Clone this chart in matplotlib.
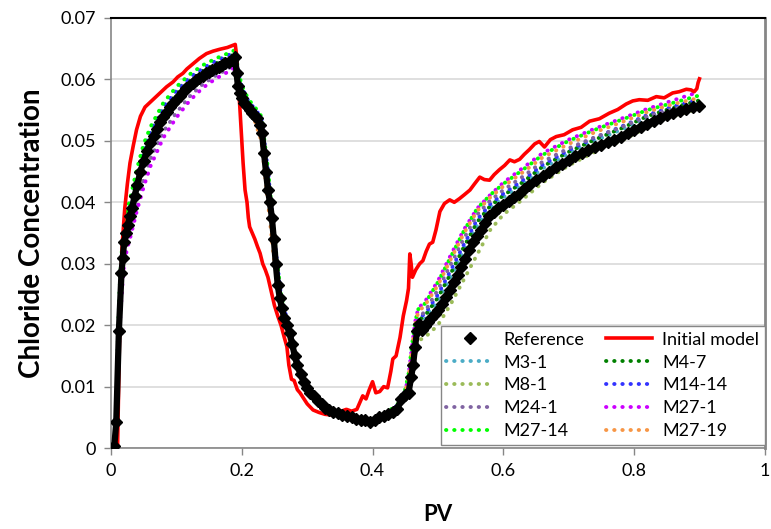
import matplotlib
matplotlib.use("Agg")
import matplotlib.pyplot as plt

# ---- data ----
ref_pv = [0.005, 0.008, 0.012, 0.016, 0.018, 0.020, 0.023, 0.026, 0.029, 0.032, 0.036, 0.040,
          0.045, 0.050, 0.055, 0.060, 0.065, 0.070, 0.075, 0.080, 0.085, 0.090, 0.095, 0.100,
          0.105, 0.110, 0.115, 0.120, 0.125, 0.130, 0.135, 0.140, 0.145, 0.150, 0.155, 0.160,
          0.165, 0.170, 0.175, 0.180, 0.185, 0.190, 0.192, 0.194, 0.197, 0.200, 0.204, 0.208,
          0.212, 0.216, 0.220, 0.224, 0.228, 0.231, 0.234, 0.237, 0.240, 0.243, 0.246, 0.249,
          0.252, 0.255, 0.258, 0.261, 0.265, 0.269, 0.273, 0.277, 0.281, 0.285, 0.290, 0.295,
          0.300, 0.305, 0.310, 0.316, 0.322, 0.328, 0.334, 0.340, 0.347, 0.354, 0.361, 0.368,
          0.375, 0.382, 0.389, 0.396, 0.403, 0.410, 0.417, 0.424, 0.431, 0.438, 0.444, 0.450,
          0.455, 0.459, 0.462, 0.465, 0.468, 0.471, 0.475, 0.480, 0.485, 0.490, 0.495, 0.500,
          0.506, 0.512, 0.518, 0.524, 0.530, 0.536, 0.542, 0.548, 0.554, 0.560, 0.566, 0.572,
          0.578, 0.585, 0.592, 0.600, 0.608, 0.616, 0.624, 0.632, 0.640, 0.650, 0.660, 0.670,
          0.680, 0.690, 0.700, 0.710, 0.720, 0.730, 0.740, 0.750, 0.760, 0.770, 0.780, 0.790,
          0.800, 0.810, 0.820, 0.830, 0.840, 0.850, 0.860, 0.870, 0.880, 0.890, 0.900]
ref_conc = [0.0003, 0.0042, 0.0190, 0.0285, 0.0310, 0.0335, 0.0350, 0.0363, 0.0378, 0.0390, 0.0410, 0.0428,
            0.0450, 0.0468, 0.0484, 0.0497, 0.0508, 0.0520, 0.0530, 0.0539, 0.0547, 0.0555, 0.0561, 0.0567,
            0.0573, 0.0580, 0.0586, 0.0590, 0.0594, 0.0599, 0.0603, 0.0606, 0.0610, 0.0612, 0.0615, 0.0618,
            0.0621, 0.0624, 0.0627, 0.0629, 0.0632, 0.0636, 0.0610, 0.0590, 0.0578, 0.0570, 0.0562, 0.0556,
            0.0550, 0.0546, 0.0541, 0.0538, 0.0526, 0.0513, 0.0480, 0.0450, 0.0420, 0.0400, 0.0375, 0.0340,
            0.0300, 0.0265, 0.0245, 0.0228, 0.0212, 0.0200, 0.0188, 0.0170, 0.0150, 0.0135, 0.0120, 0.0108,
            0.0098, 0.0090, 0.0084, 0.0077, 0.0071, 0.0066, 0.0062, 0.0059, 0.0057, 0.0054, 0.0052, 0.0050,
            0.0048, 0.0046, 0.0045, 0.0043, 0.0046, 0.0050, 0.0052, 0.0055, 0.0058, 0.0063, 0.0080, 0.0087,
            0.0090, 0.0115, 0.0135, 0.0165, 0.0190, 0.0202, 0.0192, 0.0198, 0.0205, 0.0212, 0.0218, 0.0225,
            0.0235, 0.0246, 0.0258, 0.0270, 0.0282, 0.0295, 0.0308, 0.0322, 0.0335, 0.0345, 0.0355, 0.0367,
            0.0378, 0.0385, 0.0390, 0.0396, 0.0402, 0.0408, 0.0414, 0.0421, 0.0428, 0.0436, 0.0443, 0.0450,
            0.0457, 0.0463, 0.0469, 0.0475, 0.0480, 0.0485, 0.0490, 0.0494, 0.0498, 0.0502, 0.0507, 0.0513,
            0.0518, 0.0523, 0.0528, 0.0533, 0.0538, 0.0542, 0.0546, 0.0549, 0.0552, 0.0555, 0.0557]

init_pv = [0.010, 0.012, 0.014, 0.017, 0.021, 0.025, 0.029, 0.034, 0.039, 0.045, 0.052, 0.060,
           0.070, 0.085, 0.095, 0.102, 0.110, 0.116, 0.125, 0.135, 0.146, 0.156, 0.166, 0.178,
           0.190, 0.192, 0.195, 0.197, 0.200, 0.202, 0.205, 0.208, 0.210, 0.212, 0.216, 0.220,
           0.224, 0.228, 0.232, 0.236, 0.240, 0.245, 0.250, 0.255, 0.260, 0.265, 0.269, 0.272,
           0.276, 0.280, 0.285, 0.289, 0.295, 0.300, 0.309, 0.318, 0.327, 0.335, 0.345, 0.352,
           0.360, 0.368, 0.376, 0.381, 0.385, 0.390, 0.395, 0.400, 0.405, 0.411, 0.417, 0.423,
           0.428, 0.431, 0.436, 0.442, 0.447, 0.452, 0.455, 0.457, 0.459, 0.461, 0.466, 0.472,
           0.477, 0.482, 0.487, 0.492, 0.497, 0.503, 0.510, 0.518, 0.525, 0.533, 0.540, 0.549,
           0.556, 0.564, 0.571, 0.579, 0.586, 0.594, 0.602, 0.610, 0.617, 0.625, 0.632, 0.640,
           0.648, 0.655, 0.663, 0.672, 0.681, 0.693, 0.706, 0.719, 0.732, 0.747, 0.762, 0.775,
           0.788, 0.798, 0.808, 0.821, 0.834, 0.846, 0.859, 0.869, 0.880, 0.887, 0.892, 0.896,
           0.898, 0.900]
init_conc = [0.0000, 0.0120, 0.0240, 0.0330, 0.0390, 0.0430, 0.0464, 0.0492, 0.0518, 0.0540, 0.0555, 0.0563,
             0.0573, 0.0588, 0.0596, 0.0604, 0.0610, 0.0617, 0.0625, 0.0634, 0.0642, 0.0646, 0.0649, 0.0652,
             0.0657, 0.0640, 0.0590, 0.0555, 0.0500, 0.0464, 0.0420, 0.0400, 0.0375, 0.0360, 0.0350, 0.0340,
             0.0328, 0.0317, 0.0300, 0.0290, 0.0278, 0.0255, 0.0232, 0.0215, 0.0200, 0.0180, 0.0165, 0.0135,
             0.0112, 0.0110, 0.0095, 0.0090, 0.0080, 0.0072, 0.0062, 0.0058, 0.0055, 0.0054, 0.0056, 0.0060,
             0.0063, 0.0060, 0.0063, 0.0075, 0.0085, 0.0080, 0.0095, 0.0108, 0.0090, 0.0092, 0.0100, 0.0098,
             0.0125, 0.0145, 0.0150, 0.0180, 0.0215, 0.0240, 0.0260, 0.0316, 0.0300, 0.0278, 0.0290, 0.0300,
             0.0305, 0.0320, 0.0332, 0.0335, 0.0355, 0.0385, 0.0398, 0.0404, 0.0400, 0.0406, 0.0412, 0.0420,
             0.0430, 0.0441, 0.0437, 0.0436, 0.0445, 0.0453, 0.0460, 0.0469, 0.0466, 0.0470, 0.0478, 0.0486,
             0.0495, 0.0499, 0.0490, 0.0502, 0.0507, 0.0510, 0.0518, 0.0522, 0.0532, 0.0536, 0.0545, 0.0551,
             0.0560, 0.0565, 0.0567, 0.0566, 0.0572, 0.0570, 0.0578, 0.0580, 0.0584, 0.0583, 0.0580, 0.0585,
             0.0595, 0.0601]

model_pv = [0.005, 0.008, 0.011, 0.014, 0.017, 0.020, 0.025, 0.030, 0.040, 0.050, 0.060, 0.080,
            0.100, 0.120, 0.140, 0.160, 0.180, 0.190, 0.195, 0.200, 0.210, 0.220, 0.230, 0.240,
            0.250, 0.260, 0.270, 0.280, 0.290, 0.300, 0.320, 0.340, 0.360, 0.380, 0.400, 0.420,
            0.440, 0.450, 0.455, 0.460, 0.465, 0.470, 0.480, 0.500, 0.520, 0.540, 0.560, 0.580,
            0.600, 0.630, 0.660, 0.700, 0.740, 0.780, 0.820, 0.860, 0.900]

m3_1 = [0.0, 0.005, 0.017, 0.025, 0.030, 0.0338, 0.0368, 0.0390, 0.0436, 0.0476, 0.0505, 0.0547,
        0.0574, 0.0596, 0.0612, 0.0624, 0.0635, 0.0640, 0.0600, 0.0578, 0.0558, 0.0546, 0.0530, 0.0440,
        0.0330, 0.0240, 0.0200, 0.0158, 0.0122, 0.0100, 0.0074, 0.0060, 0.0052, 0.0047, 0.0046, 0.0055,
        0.0070, 0.0090, 0.0110, 0.0150, 0.0185, 0.0205, 0.0210, 0.0240, 0.0280, 0.0322, 0.0362, 0.0390,
        0.0408, 0.0430, 0.0455, 0.0480, 0.0500, 0.0518, 0.0538, 0.0552, 0.0565]
m4_7 = [0.0, 0.005, 0.018, 0.026, 0.031, 0.0342, 0.0372, 0.0394, 0.0440, 0.0480, 0.0508, 0.0550,
        0.0577, 0.0598, 0.0614, 0.0626, 0.0637, 0.0642, 0.0605, 0.0582, 0.0560, 0.0548, 0.0533, 0.0445,
        0.0335, 0.0243, 0.0202, 0.0160, 0.0124, 0.0101, 0.0075, 0.0060, 0.0052, 0.0047, 0.0046, 0.0055,
        0.0071, 0.0092, 0.0112, 0.0155, 0.0190, 0.0208, 0.0215, 0.0245, 0.0285, 0.0328, 0.0368, 0.0394,
        0.0411, 0.0433, 0.0458, 0.0482, 0.0502, 0.0520, 0.0540, 0.0554, 0.0566]
m8_1 = [0.0, 0.004, 0.015, 0.023, 0.028, 0.0322, 0.0352, 0.0374, 0.0420, 0.0460, 0.0490, 0.0532,
        0.0560, 0.0584, 0.0601, 0.0614, 0.0626, 0.0632, 0.0598, 0.0576, 0.0556, 0.0545, 0.0528, 0.0440,
        0.0330, 0.0238, 0.0200, 0.0158, 0.0124, 0.0102, 0.0076, 0.0061, 0.0053, 0.0048, 0.0046, 0.0054,
        0.0066, 0.0080, 0.0090, 0.0115, 0.0150, 0.0175, 0.0180, 0.0200, 0.0235, 0.0275, 0.0315, 0.0355,
        0.0380, 0.0405, 0.0432, 0.0460, 0.0482, 0.0500, 0.0522, 0.0540, 0.0553]
m14_14 = [0.0, 0.006, 0.019, 0.027, 0.032, 0.0350, 0.0380, 0.0402, 0.0448, 0.0488, 0.0515, 0.0556,
          0.0582, 0.0603, 0.0618, 0.0630, 0.0640, 0.0645, 0.0610, 0.0588, 0.0565, 0.0552, 0.0538, 0.0452,
          0.0340, 0.0248, 0.0206, 0.0163, 0.0126, 0.0102, 0.0075, 0.0060, 0.0052, 0.0047, 0.0046, 0.0055,
          0.0071, 0.0093, 0.0115, 0.0158, 0.0195, 0.0212, 0.0218, 0.0250, 0.0290, 0.0332, 0.0372, 0.0397,
          0.0414, 0.0436, 0.0461, 0.0485, 0.0505, 0.0523, 0.0542, 0.0556, 0.0568]
m24_1 = [0.0, 0.004, 0.014, 0.022, 0.027, 0.0310, 0.0338, 0.0358, 0.0400, 0.0438, 0.0470, 0.0515,
         0.0546, 0.0572, 0.0592, 0.0606, 0.0618, 0.0625, 0.0592, 0.0572, 0.0552, 0.0540, 0.0522, 0.0432,
         0.0325, 0.0236, 0.0198, 0.0156, 0.0120, 0.0097, 0.0070, 0.0056, 0.0050, 0.0046, 0.0045, 0.0054,
         0.0068, 0.0088, 0.0108, 0.0150, 0.0190, 0.0212, 0.0222, 0.0258, 0.0300, 0.0342, 0.0380, 0.0403,
         0.0420, 0.0442, 0.0466, 0.0488, 0.0506, 0.0522, 0.0540, 0.0552, 0.0562]
m27_1 = [0.0, 0.004, 0.013, 0.021, 0.026, 0.0300, 0.0326, 0.0345, 0.0388, 0.0425, 0.0458, 0.0505,
         0.0538, 0.0565, 0.0586, 0.0601, 0.0613, 0.0620, 0.0590, 0.0570, 0.0550, 0.0540, 0.0524, 0.0436,
         0.0328, 0.0238, 0.0198, 0.0155, 0.0118, 0.0094, 0.0068, 0.0055, 0.0050, 0.0046, 0.0046, 0.0055,
         0.0070, 0.0092, 0.0115, 0.0160, 0.0205, 0.0228, 0.0238, 0.0272, 0.0315, 0.0356, 0.0390, 0.0412,
         0.0432, 0.0456, 0.0480, 0.0502, 0.0520, 0.0536, 0.0552, 0.0566, 0.0580]
m27_14 = [0.0, 0.006, 0.020, 0.028, 0.033, 0.0358, 0.0388, 0.0410, 0.0456, 0.0495, 0.0522, 0.0562,
          0.0588, 0.0608, 0.0623, 0.0634, 0.0643, 0.0648, 0.0612, 0.0590, 0.0568, 0.0555, 0.0540, 0.0455,
          0.0342, 0.0248, 0.0205, 0.0160, 0.0124, 0.0100, 0.0074, 0.0058, 0.0051, 0.0046, 0.0046, 0.0056,
          0.0073, 0.0096, 0.0120, 0.0165, 0.0205, 0.0226, 0.0235, 0.0270, 0.0312, 0.0354, 0.0390, 0.0412,
          0.0430, 0.0453, 0.0477, 0.0500, 0.0518, 0.0534, 0.0550, 0.0562, 0.0574]
m27_19 = [0.0, 0.005, 0.016, 0.024, 0.029, 0.0330, 0.0360, 0.0380, 0.0422, 0.0460, 0.0490, 0.0533,
          0.0562, 0.0586, 0.0604, 0.0617, 0.0628, 0.0634, 0.0595, 0.0572, 0.0548, 0.0532, 0.0500, 0.0400,
          0.0300, 0.0220, 0.0188, 0.0148, 0.0114, 0.0092, 0.0068, 0.0056, 0.0050, 0.0046, 0.0046, 0.0055,
          0.0070, 0.0092, 0.0113, 0.0158, 0.0200, 0.0222, 0.0232, 0.0265, 0.0308, 0.0350, 0.0386, 0.0408,
          0.0426, 0.0449, 0.0473, 0.0495, 0.0514, 0.0530, 0.0547, 0.0560, 0.0570]

model_names = ["M3-1", "M4-7", "M8-1", "M14-14", "M24-1", "M27-1", "M27-14", "M27-19"]
model_series = [m3_1, m4_7, m8_1, m14_14, m24_1, m27_1, m27_14, m27_19]
model_colors = ["#4bacc6", "#008000", "#9bbb59", "#3333ff", "#8064a2", "#cc00ff", "#00ff00", "#f79646"]

x_ticks = [0, 0.2, 0.4, 0.6, 0.8, 1.0]
x_labels = ["0", "0.2", "0.4", "0.6", "0.8", "1"]
y_ticks = [0, 0.01, 0.02, 0.03, 0.04, 0.05, 0.06, 0.07]
y_labels = ["0", "0.01", "0.02", "0.03", "0.04", "0.05", "0.06", "0.07"]

plt.rcParams["font.family"] = ["Lato", "DejaVu Sans"]

fig = plt.figure(figsize=(7.71, 5.29), dpi=100)
ax = fig.add_axes([0.144, 0.153, 0.848, 0.813])

# model runs as round dotted lines
handles = {}
for name, vals, col in zip(model_names, model_series, model_colors):
    ln, = ax.plot(model_pv, vals, color=col, linestyle=(0, (0.1, 2.0)), linewidth=2.8,
                  dash_capstyle="round", zorder=2, label=name)
    handles[name] = ln

# initial model
ln, = ax.plot(init_pv, init_conc, color="#ff0000", linewidth=2.6, zorder=3, label="Initial model")
handles["Initial model"] = ln

# reference data (dense diamonds)
ax.plot(ref_pv, ref_conc, color="black", linewidth=4.5, zorder=4)
ln, = ax.plot(ref_pv, ref_conc, linestyle="none", marker="D", markersize=6.5,
              color="black", zorder=5, label="Reference")
handles["Reference"] = ln

ax.set_xlim(0, 1)
ax.set_ylim(0, 0.07)
ax.set_xticks(x_ticks)
ax.set_xticklabels(x_labels)
ax.set_yticks(y_ticks)
ax.set_yticklabels(y_labels)
ax.tick_params(direction="out", length=5, width=1, color="#868686", labelsize=13, pad=6)
ax.yaxis.grid(True, color="#d9d9d9", linewidth=1.2)
ax.set_axisbelow(True)

for side in ["left", "bottom", "right"]:
    ax.spines[side].set_color("#868686")
    ax.spines[side].set_linewidth(1.2)
ax.spines["right"].set_linewidth(2)
ax.spines["top"].set_color("black")
ax.spines["top"].set_linewidth(1.5)

ax.set_xlabel("PV", fontsize=16, fontweight="bold", labelpad=18)
ax.set_ylabel("Chloride Concentration", fontsize=20, fontweight="bold", labelpad=11)

# legend is filled row by row like the original
order = ["Reference", "M3-1", "M8-1", "M24-1", "M27-14",
         "Initial model", "M4-7", "M14-14", "M27-1", "M27-19"]
leg = ax.legend([handles[k] for k in order], order, ncol=2, loc="lower right",
                bbox_to_anchor=(1.0, 0.008), fontsize=13, frameon=True, fancybox=False,
                edgecolor="#868686", framealpha=1, handlelength=2.6, columnspacing=1.2,
                labelspacing=0.38, borderpad=0.3, handletextpad=0.55, borderaxespad=0)
leg.get_frame().set_linewidth(1.0)

fig.savefig("out.png", dpi=100)
